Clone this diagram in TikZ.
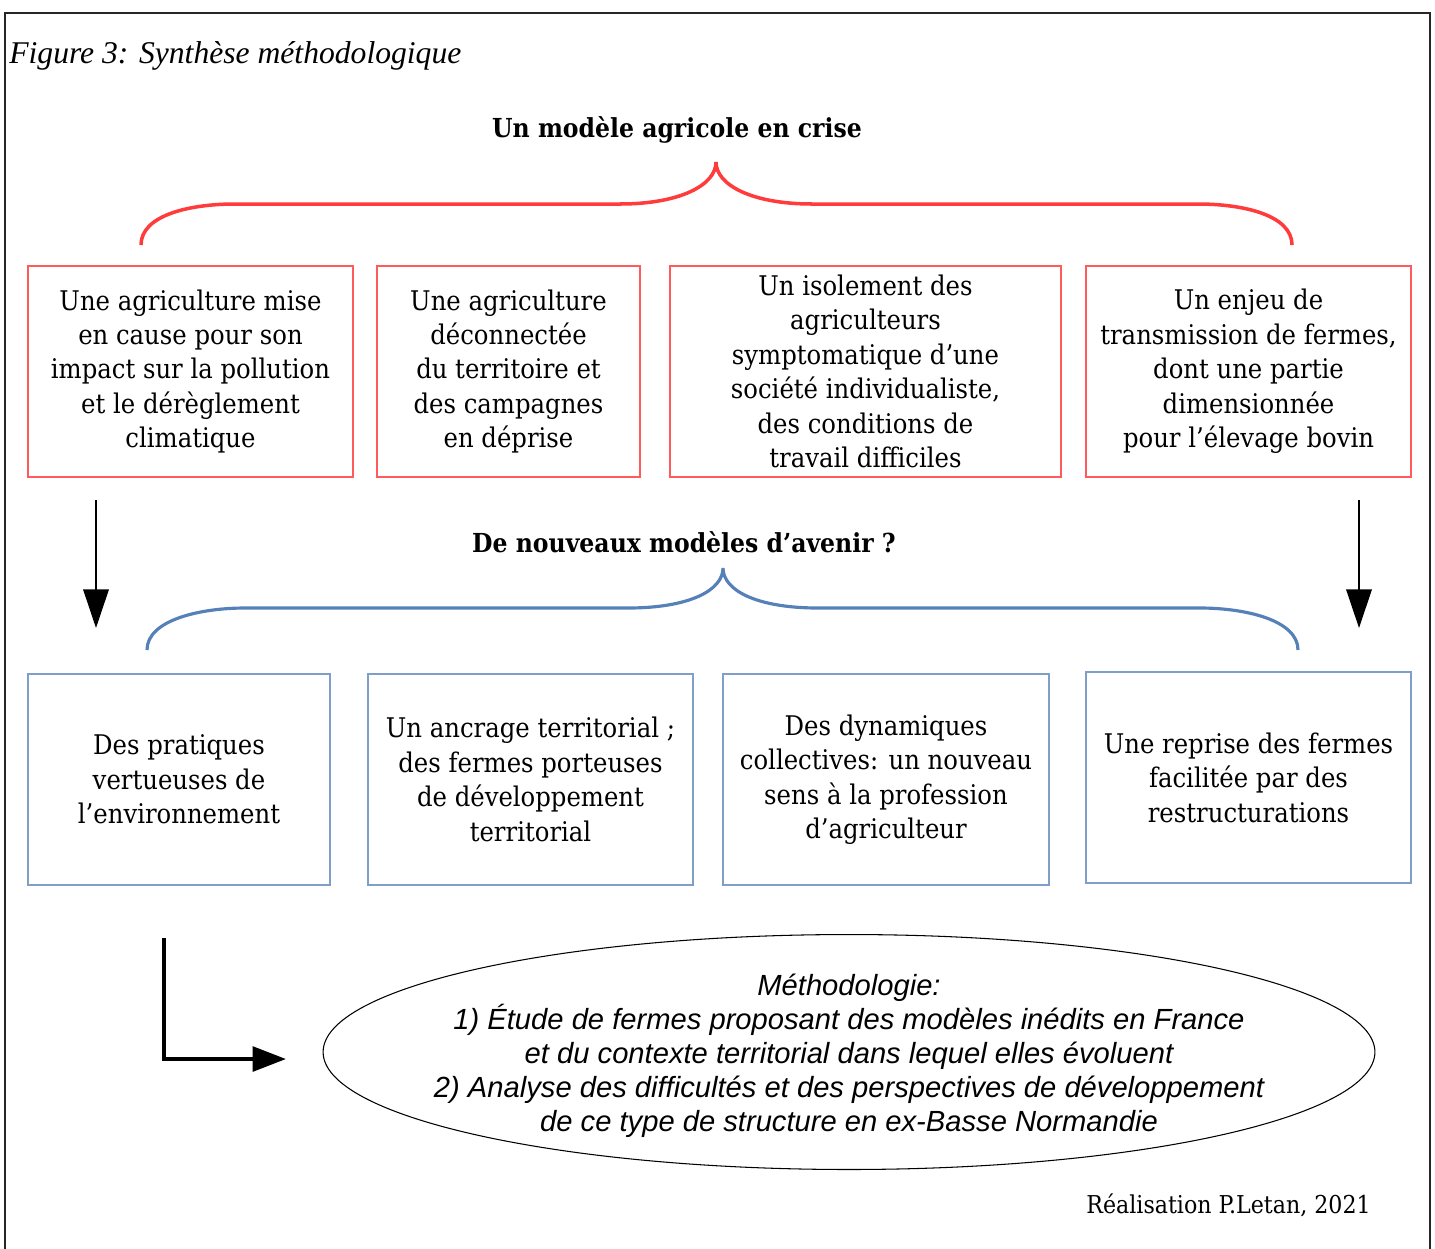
\documentclass[tikz,border=0pt]{standalone}
\usepackage{fontspec}
\setmainfont{DejaVu Serif}[FakeStretch=0.9]
\newfontfamily\titlefont{Liberation Serif}
\newfontfamily\ellfont{Liberation Sans}
\usetikzlibrary{arrows.meta,shapes.geometric,positioning}
\definecolor{boxred}{HTML}{FF5B5B}
\definecolor{bracered}{HTML}{FF3B3B}
\definecolor{boxblue}{HTML}{7F9FC9}
\definecolor{braceblue}{HTML}{5680B8}
\newcommand{\boxfont}{\fontsize{15.4}{19.6}\selectfont}
\tikzset{
  redbox/.style={draw=boxred, line width=0.7pt, minimum height=4.22cm, inner sep=0pt, align=center, font=\boxfont},
  bluebox/.style={draw=boxblue, line width=0.7pt, minimum height=4.22cm, inner sep=0pt, align=center, font=\boxfont},
  heading/.style={font=\fontsize{14.9}{18}\selectfont\bfseries, inner sep=0pt},
  downarrow/.style={line width=1.1pt, -{Triangle[length=22pt,width=14.5pt]}},
  cornerarrow/.style={line width=2.3pt, -{Triangle[length=19pt,width=14pt]}},
}
\begin{document}
\begin{tikzpicture}[x=0.02cm,y=-0.02cm]
	\useasboundingbox (0,0) rectangle (1435,1248);
	% cadre
	\draw [line width=0.9pt, black!85] (5,1260) -- (5,13) -- (1430,13) -- (1430,1260);
	\node [font=\titlefont\itshape\fontsize{18}{22}\selectfont, anchor=west, inner sep=0pt] (titre) at (9,56) {Figure 3: Synthèse méthodologique};
	% constat
	\node [heading] (crise) at (677,130) {Un modèle agricole en crise};
	\draw [bracered, line width=2pt] (141,245) .. controls (141,215) and (190,204) .. (235,204) -- (620,204)
		.. controls (680,204) and (716,185) .. (716,162)
		.. controls (716,185) and (752,204) .. (812,204) -- (1198,204)
		.. controls (1243,204) and (1292,215) .. (1292,245);
	\node [redbox, minimum width=6.5cm] (pollution) at (190.5,371.5) {Une agriculture mise\\en cause pour son\\impact sur la pollution\\et le dérèglement\\climatique};
	\node [redbox, minimum width=5.26cm] (territoire) at (508.5,371.5) {Une agriculture\\déconnectée\\du territoire et\\des campagnes\\en déprise};
	\node [redbox, minimum width=7.82cm] (isolement) at (865.5,371.5) {Un isolement des\\agriculteurs\\symptomatique d’une\\société individualiste,\\des conditions de\\travail difficiles};
	\node [redbox, minimum width=6.5cm] (transmission) at (1248.5,371.5) {Un enjeu de\\transmission de fermes,\\dont une partie\\dimensionnée\\pour l’élevage bovin};
	% fleches
	\coordinate (g1) at (96,500);
	\coordinate (g2) at (96,628);
	\coordinate (d1) at (1359,500);
	\coordinate (d2) at (1359,628);
	\draw [downarrow] (g1) -- (g2);
	\draw [downarrow] (d1) -- (d2);
	% modeles
	\node [heading] (avenir) at (684,542) {De nouveaux modèles d’avenir ?};
	\draw [braceblue, line width=1.8pt] (147,650) .. controls (147,620) and (200,608) .. (245,608) -- (628,608)
		.. controls (690,608) and (723,590) .. (723,568)
		.. controls (723,590) and (756,608) .. (818,608) -- (1200,608)
		.. controls (1245,608) and (1298,620) .. (1298,650);
	\node [bluebox, minimum width=6.04cm] (pratiques) at (179,779.5) {Des pratiques\\vertueuses de\\l’environnement};
	\node [bluebox, minimum width=6.5cm] (ancrage) at (530.5,779.5) {Un ancrage territorial ;\\des fermes porteuses\\de développement\\territorial};
	\node [bluebox, minimum width=6.52cm] (collectif) at (886,779.5) {Des dynamiques\\collectives: un nouveau\\sens à la profession\\d’agriculteur};
	\node [bluebox, minimum width=6.5cm] (reprise) at (1248.5,777.5) {Une reprise des fermes\\facilitée par des\\restructurations};
	% methodologie
	\coordinate (m1) at (164,938);
	\coordinate (m2) at (286,1059);
	\draw [cornerarrow] (m1) |- (m2);
	\coordinate (centre) at (849,1052);
	\draw [line width=0.6pt] (centre) ellipse [x radius=10.52cm, y radius=2.35cm];
	\node [inner sep=0pt, align=center, font=\ellfont\itshape\fontsize{16.6}{19.3}\selectfont] (methode) at (849,1056)
		{Méthodologie:\\1) Étude de fermes proposant des modèles inédits en France\\et du contexte territorial dans lequel elles évoluent\\2) Analyse des difficultés et des perspectives de développement\\de ce type de structure en ex-Basse Normandie};
	\node [font=\fontsize{14}{17}\selectfont, anchor=east, inner sep=0pt] (auteur) at (1371,1205) {Réalisation P.Letan, 2021};
\end{tikzpicture}
\end{document}
